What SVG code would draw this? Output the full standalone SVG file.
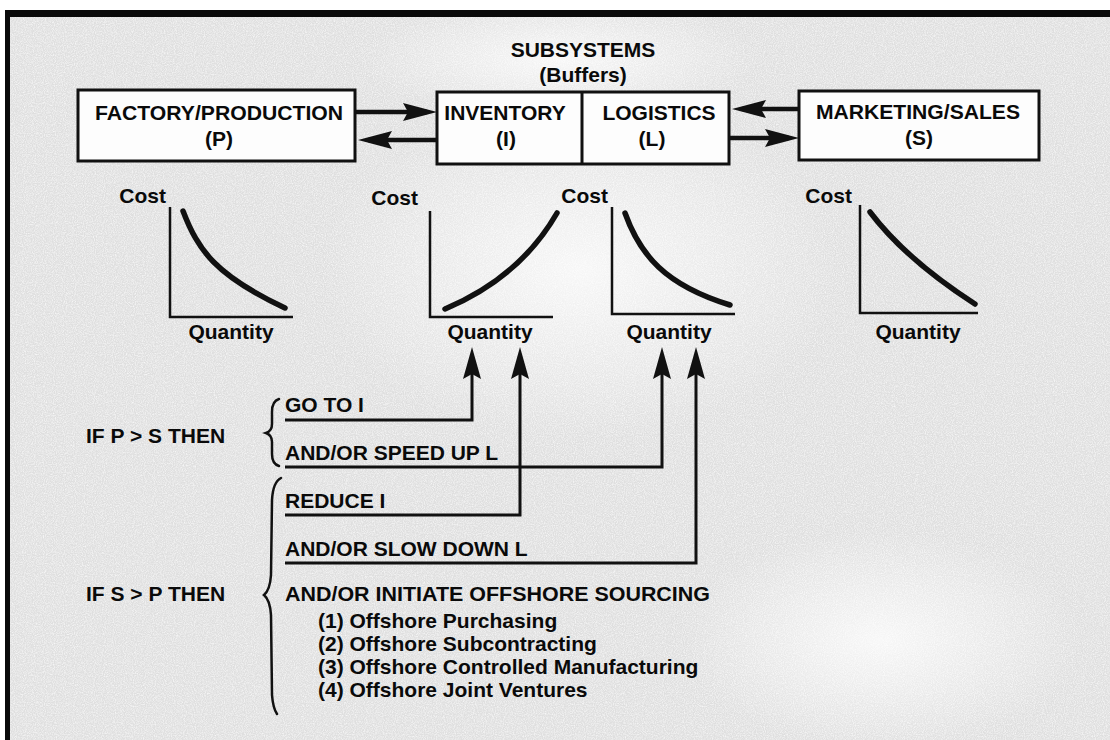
<svg xmlns="http://www.w3.org/2000/svg" width="1110" height="740" viewBox="0 0 1110 740">
  <style>
    text { font-family: "Liberation Sans", Arial, Helvetica, sans-serif; font-weight: bold; fill: #0a0a0a; }
    .lbl { font-size: 21px; }
    .box { fill: #fdfdfd; stroke: #111; stroke-width: 3; }
    .axis { fill: none; stroke: #111; stroke-width: 2.5; }
    .curve { fill: none; stroke: #111; stroke-width: 5.5; stroke-linecap: round; }
    .flow { fill: none; stroke: #111; stroke-width: 4.5; }
    .conn { fill: none; stroke: #111; stroke-width: 3; }
    .brace { fill: none; stroke: #111; stroke-width: 2.5; stroke-linecap: round; }
  </style>
  <defs>
    <marker id="bigArrow" viewBox="0 0 34 18" refX="24" refY="9" markerWidth="34" markerHeight="18" markerUnits="userSpaceOnUse" orient="auto">
      <path d="M0,0 L34,9 L0,18 L5,9 Z" fill="#111"/>
    </marker>
    <marker id="upArrow" viewBox="0 0 32 18" refX="22" refY="9" markerWidth="32" markerHeight="18" markerUnits="userSpaceOnUse" orient="auto">
      <path d="M0,0 L32,9 L0,18 L5,9 Z" fill="#111"/>
    </marker>
    <filter id="paper" x="0" y="0" width="100%" height="100%">
      <feTurbulence type="fractalNoise" baseFrequency="0.9" numOctaves="2" seed="4"/>
      <feColorMatrix type="matrix" values="0 0 0 0 1  0 0 0 0 1  0 0 0 0 1  1.4 0 0 0 -0.5"/>
    </filter>
    <radialGradient id="glow" cx="0.5" cy="0.5" r="0.5">
      <stop offset="0" stop-color="#ffffff" stop-opacity="0.75"/>
      <stop offset="1" stop-color="#ffffff" stop-opacity="0"/>
    </radialGradient>
  </defs>

  <!-- background / frame -->
  <rect x="0" y="0" width="1110" height="740" fill="#ffffff"/>
  <rect x="6" y="14" width="1104" height="726" fill="#dfdfdf"/>
  <ellipse cx="580" cy="270" rx="260" ry="170" fill="url(#glow)"/>
  <ellipse cx="880" cy="640" rx="200" ry="110" fill="url(#glow)"/>
  <ellipse cx="560" cy="60" rx="200" ry="60" fill="url(#glow)"/>
  <rect x="6" y="14" width="1104" height="726" filter="url(#paper)"/>
  <rect x="6" y="10" width="1104" height="7" fill="#0a0a0a"/>
  <rect x="5" y="10" width="5" height="730" fill="#0a0a0a"/>

  <!-- title -->
  <g id="title">
    <text x="583" y="57" class="lbl" text-anchor="middle">SUBSYSTEMS</text>
    <text x="583" y="82" class="lbl" text-anchor="middle">(Buffers)</text>
  </g>

  <!-- nodes -->
  <g id="node-production">
    <rect class="box" x="78" y="90" width="277" height="71"/>
    <text x="219" y="120" class="lbl" text-anchor="middle" textLength="248" lengthAdjust="spacingAndGlyphs">FACTORY/PRODUCTION</text>
    <text x="219" y="146" class="lbl" text-anchor="middle">(P)</text>
  </g>
  <g id="node-buffers">
    <rect class="box" x="437" y="92" width="292" height="72"/>
    <line x1="582" y1="92" x2="582" y2="164" stroke="#111" stroke-width="3"/>
    <text x="505" y="120" class="lbl" text-anchor="middle">INVENTORY</text>
    <text x="506" y="146" class="lbl" text-anchor="middle">(I)</text>
    <text x="659" y="120" class="lbl" text-anchor="middle">LOGISTICS</text>
    <text x="652" y="146" class="lbl" text-anchor="middle">(L)</text>
  </g>
  <g id="node-marketing">
    <rect class="box" x="799" y="91" width="240" height="69"/>
    <text x="918" y="119" class="lbl" text-anchor="middle" textLength="204" lengthAdjust="spacingAndGlyphs">MARKETING/SALES</text>
    <text x="919" y="145" class="lbl" text-anchor="middle">(S)</text>
  </g>

  <!-- cost curves -->
  <g id="graph-production">
    <text x="166" y="203" class="lbl" text-anchor="end">Cost</text>
    <path class="axis" d="M170,207 V317 H293"/>
    <path class="curve" d="M183,211 C198,250 215,275 285,308"/>
    <text x="231" y="339" class="lbl" text-anchor="middle">Quantity</text>
  </g>
  <g id="graph-inventory">
    <text x="418" y="205" class="lbl" text-anchor="end">Cost</text>
    <path class="axis" d="M430,211 V317 H553"/>
    <path class="curve" d="M445,309 C490,290 530,260 557,213"/>
    <text x="490" y="339" class="lbl" text-anchor="middle">Quantity</text>
  </g>
  <g id="graph-logistics">
    <text x="608" y="203" class="lbl" text-anchor="end">Cost</text>
    <path class="axis" d="M612,207 V314 H735"/>
    <path class="curve" d="M625,213 C640,255 665,285 730,305"/>
    <text x="669" y="339" class="lbl" text-anchor="middle">Quantity</text>
  </g>
  <g id="graph-marketing">
    <text x="852" y="203" class="lbl" text-anchor="end">Cost</text>
    <path class="axis" d="M860,205 V313 H978"/>
    <path class="curve" d="M870,212 C895,245 930,275 975,304"/>
    <text x="918" y="339" class="lbl" text-anchor="middle">Quantity</text>
  </g>

  <!-- conditions -->
  <g id="cond-p-gt-s">
    <text x="86" y="443" class="lbl">IF P &gt; S THEN</text>
    <path class="brace" d="M279,399 Q272,401 272,412 L272,424 Q272,431 266,433 Q272,435 272,442 L272,454 Q272,464 279,466"/>
    <text x="285" y="412" class="lbl">GO TO I</text>
    <text x="285" y="460" class="lbl">AND/OR SPEED UP L</text>
  </g>
  <g id="cond-s-gt-p">
    <text x="86" y="601" class="lbl">IF S &gt; P THEN</text>
    <path class="brace" d="M281,478 Q273,482 272,500 L271,575 Q270,590 264,595 Q270,600 271,615 L272,695 Q273,708 277,714"/>
    <text x="285" y="508" class="lbl">REDUCE I</text>
    <text x="285" y="556" class="lbl">AND/OR SLOW DOWN L</text>
    <text x="285" y="601" class="lbl" textLength="425" lengthAdjust="spacingAndGlyphs">AND/OR INITIATE OFFSHORE SOURCING</text>
    <text x="318" y="628" class="lbl">(1) Offshore Purchasing</text>
    <text x="318" y="651" class="lbl">(2) Offshore Subcontracting</text>
    <text x="318" y="674" class="lbl">(3) Offshore Controlled Manufacturing</text>
    <text x="318" y="697" class="lbl">(4) Offshore Joint Ventures</text>
  </g>

  <!-- connectors -->
  <g id="connectors">
    <line class="flow" x1="356" y1="112" x2="427" y2="112" marker-end="url(#bigArrow)"/>
    <line class="flow" x1="436" y1="140" x2="368" y2="140" marker-end="url(#bigArrow)"/>
    <line class="flow" x1="799" y1="109" x2="742" y2="109" marker-end="url(#bigArrow)"/>
    <line class="flow" x1="730" y1="138" x2="789" y2="138" marker-end="url(#bigArrow)"/>
    <path class="conn" d="M285,420 H472 V357" marker-end="url(#upArrow)"/>
    <path class="conn" d="M285,467 H662 V357" marker-end="url(#upArrow)"/>
    <path class="conn" d="M285,515 H520 V357" marker-end="url(#upArrow)"/>
    <path class="conn" d="M285,563 H696 V357" marker-end="url(#upArrow)"/>
  </g>
</svg>
